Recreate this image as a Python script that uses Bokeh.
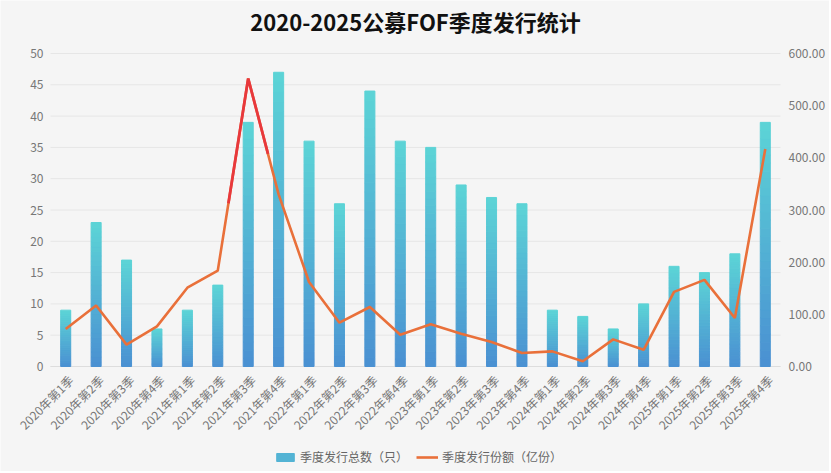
from bokeh.plotting import figure
from bokeh.models import (Range1d, LinearAxis, FixedTicker, NumeralTickFormatter,
                          Legend, LegendItem, ColumnDataSource)
from bokeh.core.properties import value
from bokeh.embed import file_html
from bokeh.resources import INLINE
import math

title_text = "2020-2025公募FOF季度发行统计"
quarters = ["2020年第1季", "2020年第2季", "2020年第3季", "2020年第4季",
            "2021年第1季", "2021年第2季", "2021年第3季", "2021年第4季",
            "2022年第1季", "2022年第2季", "2022年第3季", "2022年第4季",
            "2023年第1季", "2023年第2季", "2023年第3季", "2023年第4季",
            "2024年第1季", "2024年第2季", "2024年第3季", "2024年第4季",
            "2025年第1季", "2025年第2季", "2025年第3季", "2025年第4季"]
counts = [9, 23, 17, 6, 9, 13, 39, 47, 36, 26, 44, 36,
          35, 29, 27, 26, 9, 8, 6, 10, 16, 15, 18, 39]
shares = [72, 117, 42, 77, 151, 184, 552, 330, 162, 84, 114, 61,
          81, 63, 47, 26, 29, 10, 52, 32, 143, 166, 93, 417]
left_ticks = [0, 5, 10, 15, 20, 25, 30, 35, 40, 45, 50]
right_ticks = [0, 100, 200, 300, 400, 500, 600]

FONT = "Noto Sans CJK SC"
BG = "#f5f5f5"
BLUE = (74, 144, 210)
CYAN = (92, 212, 214)
ORANGE = "#e9703a"
RED = "#e8383c"
GRID = "#e6e6e6"

# layout (pixels): the frame covers the whole canvas; the value area sits inside it
W, H = 829, 471
AREA_L, AREA_W = 50, 730      # left edge / width of the category area
AREA_T, AREA_H = 53, 313      # top (max tick) / height down to zero
ncat = len(quarters)
pxc = AREA_W / ncat
lmax, rmax = left_ticks[-1], right_ticks[-1]
x0 = -0.5 - AREA_L / pxc
x1 = x0 + W / pxc
below = (H - AREA_T - AREA_H) / AREA_H
above = AREA_T / AREA_H

p = figure(frame_width=W, frame_height=H, output_backend="svg", toolbar_location=None,
           x_range=Range1d(x0, x1),
           y_range=Range1d(-lmax * below, lmax * (1 + above)),
           min_border=0)
p.extra_y_ranges = {"right": Range1d(-rmax * below, rmax * (1 + above))}
p.background_fill_color = BG
p.border_fill_color = BG
p.outline_line_color = None
p.title.text = ""
p.title.visible = False
p.xaxis.visible = False
p.xgrid.grid_line_color = None
p.ygrid.grid_line_color = None

xi = list(range(ncat))
xlo, xhi = xi[0] - 0.5, xi[-1] + 0.5

# grid lines across the category area only
p.segment(x0=[xlo] * len(left_ticks), x1=[xhi] * len(left_ticks),
          y0=left_ticks, y1=left_ticks, line_color=GRID, line_width=1)
p.segment(x0=[xlo], x1=[xhi], y0=[0], y1=[0], line_color="#dddddd", line_width=1)

# gradient bars: each bar split into slices from its own value
N = 30
xs, bots, tops, cols = [], [], [], []
for i, v in enumerate(counts):
    for k in range(N):
        t = (k + 0.5) / N
        c = tuple(int(round(BLUE[j] + (CYAN[j] - BLUE[j]) * t)) for j in range(3))
        xs.append(i)
        bots.append(v * k / N)
        tops.append(v * (k + 1) / N)
        cols.append("#%02x%02x%02x" % c)
src = ColumnDataSource(dict(x=xs, bottom=bots, top=tops, color=cols))
bars = p.vbar(x="x", bottom="bottom", top="top", width=0.33, source=src,
              fill_color="color", line_color="color", line_width=1)

line = p.line(xi, shares, y_range_name="right", line_color=ORANGE, line_width=2.6)

# red highlight around the peak (part of the two neighbouring segments)
F = 0.65
j = max(range(len(shares)), key=lambda i: shares[i])
hx = [xi[j] + F * (xi[j - 1] - xi[j]), xi[j], xi[j] + F * (xi[j + 1] - xi[j])]
hy = [shares[j] + F * (shares[j - 1] - shares[j]), shares[j],
      shares[j] + F * (shares[j + 1] - shares[j])]
p.line(hx, hy, y_range_name="right", line_color=RED, line_width=2.8)

# category labels, rotated, anchored under each category
p.text(x=xi, y=[0] * ncat, text=quarters, angle=math.pi / 4,
       text_align="right", text_baseline="middle", x_offset=5, y_offset=11,
       text_font=value(FONT), text_font_size="12px", text_color="#777777")

# title
p.text(x=[(xi[0] + xi[-1]) / 2], y=[lmax], text=[title_text], y_offset=-33,
       text_align="center", text_baseline="middle",
       text_font=value(FONT), text_font_size="22px", text_font_style="bold",
       text_color="#111111")

# value axes, drawn at the edges of the category area
p.yaxis.ticker = FixedTicker(ticks=left_ticks)
p.yaxis.fixed_location = xlo
ra = LinearAxis(y_range_name="right", ticker=FixedTicker(ticks=right_ticks),
                formatter=NumeralTickFormatter(format="0.00"), fixed_location=xhi)
p.add_layout(ra, "right")
for ax, so in ((p.yaxis[0], 7), (ra, 8)):
    ax.axis_line_color = None
    ax.major_tick_line_color = None
    ax.minor_tick_line_color = None
    ax.major_tick_out = 0
    ax.major_tick_in = 0
    ax.major_label_text_font = FONT
    ax.major_label_text_font_size = "12px"
    ax.major_label_text_color = "#777777"
    ax.major_label_standoff = so

legend = Legend(items=[LegendItem(label="季度发行总数（只）", renderers=[bars], index=N // 2),
                       LegendItem(label="季度发行份额（亿份）", renderers=[line])],
                orientation="horizontal", location=(274, 6))
legend.background_fill_color = BG
legend.background_fill_alpha = 1
legend.border_line_color = None
legend.label_text_font = FONT
legend.label_text_font_size = "12px"
legend.label_text_color = "#666666"
legend.label_height = 14
legend.glyph_width = 22
legend.glyph_height = 10
legend.spacing = 8
legend.label_standoff = 4
legend.margin = 0
legend.padding = 2
p.add_layout(legend, "center")

open("out.html", "w").write(file_html(p, INLINE))
